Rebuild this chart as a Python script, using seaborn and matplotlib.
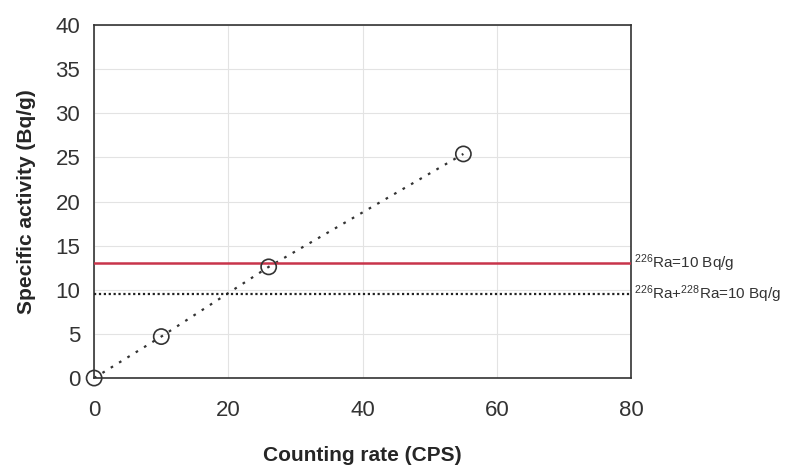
import matplotlib
matplotlib.use('Agg')
import matplotlib.pyplot as plt
import seaborn as sns
import pandas as pd

# data
cps = [0, 10, 26, 55]
activity = [0, 4.7, 12.6, 25.4]
ra226_limit = 13.0
ra_sum_limit = 9.5

sns.set_style('whitegrid')
plt.rcParams['font.family'] = ['Liberation Sans', 'DejaVu Sans']
plt.rcParams['mathtext.default'] = 'regular'

df = pd.DataFrame({'cps': cps, 'act': activity})

fig = plt.figure(figsize=(7.91, 4.65), dpi=100)
ax = fig.add_axes([0.119, 0.187, 0.679, 0.759])

sns.lineplot(data=df, x='cps', y='act', ax=ax, color='#333333', lw=1.6,
             linestyle=(0, (1.2, 3.2)))
sns.scatterplot(data=df, x='cps', y='act', ax=ax, s=120, facecolor='none',
                edgecolor='#333333', linewidth=1.2, zorder=5, clip_on=False)

ax.axhline(ra226_limit, color='#c8344a', lw=1.8, zorder=3)
ax.axhline(ra_sum_limit, color='#222222', lw=1.6, linestyle=(0, (1, 1.2)), zorder=3)

ax.set_xlim(0, 80)
ax.set_ylim(0, 40)
ax.set_xticks([0, 20, 40, 60, 80])
ax.set_yticks(range(0, 41, 5))
ax.grid(color='#e3e3e3', lw=0.8)
ax.tick_params(labelsize=16, labelcolor='#333333', length=0)
ax.tick_params(axis='x', pad=16)
ax.tick_params(axis='y', pad=10)
for s in ax.spines.values():
    s.set_color('#333333')
    s.set_linewidth(1.2)

ax.set_xlabel('Counting rate (CPS)', fontsize=15, fontweight='bold', labelpad=18)
ax.set_ylabel('Specific activity (Bq/g)', fontsize=15, fontweight='bold', labelpad=14)

ax.text(80.4, ra226_limit, r'$^{226}$Ra=10 Bq/g', fontsize=11, va='center',
        ha='left', color='#333333', clip_on=False)
ax.text(80.4, ra_sum_limit, r'$^{226}$Ra+$^{228}$Ra=10 Bq/g', fontsize=11,
        va='center', ha='left', color='#333333', clip_on=False)

fig.savefig('out.png', dpi=100)
